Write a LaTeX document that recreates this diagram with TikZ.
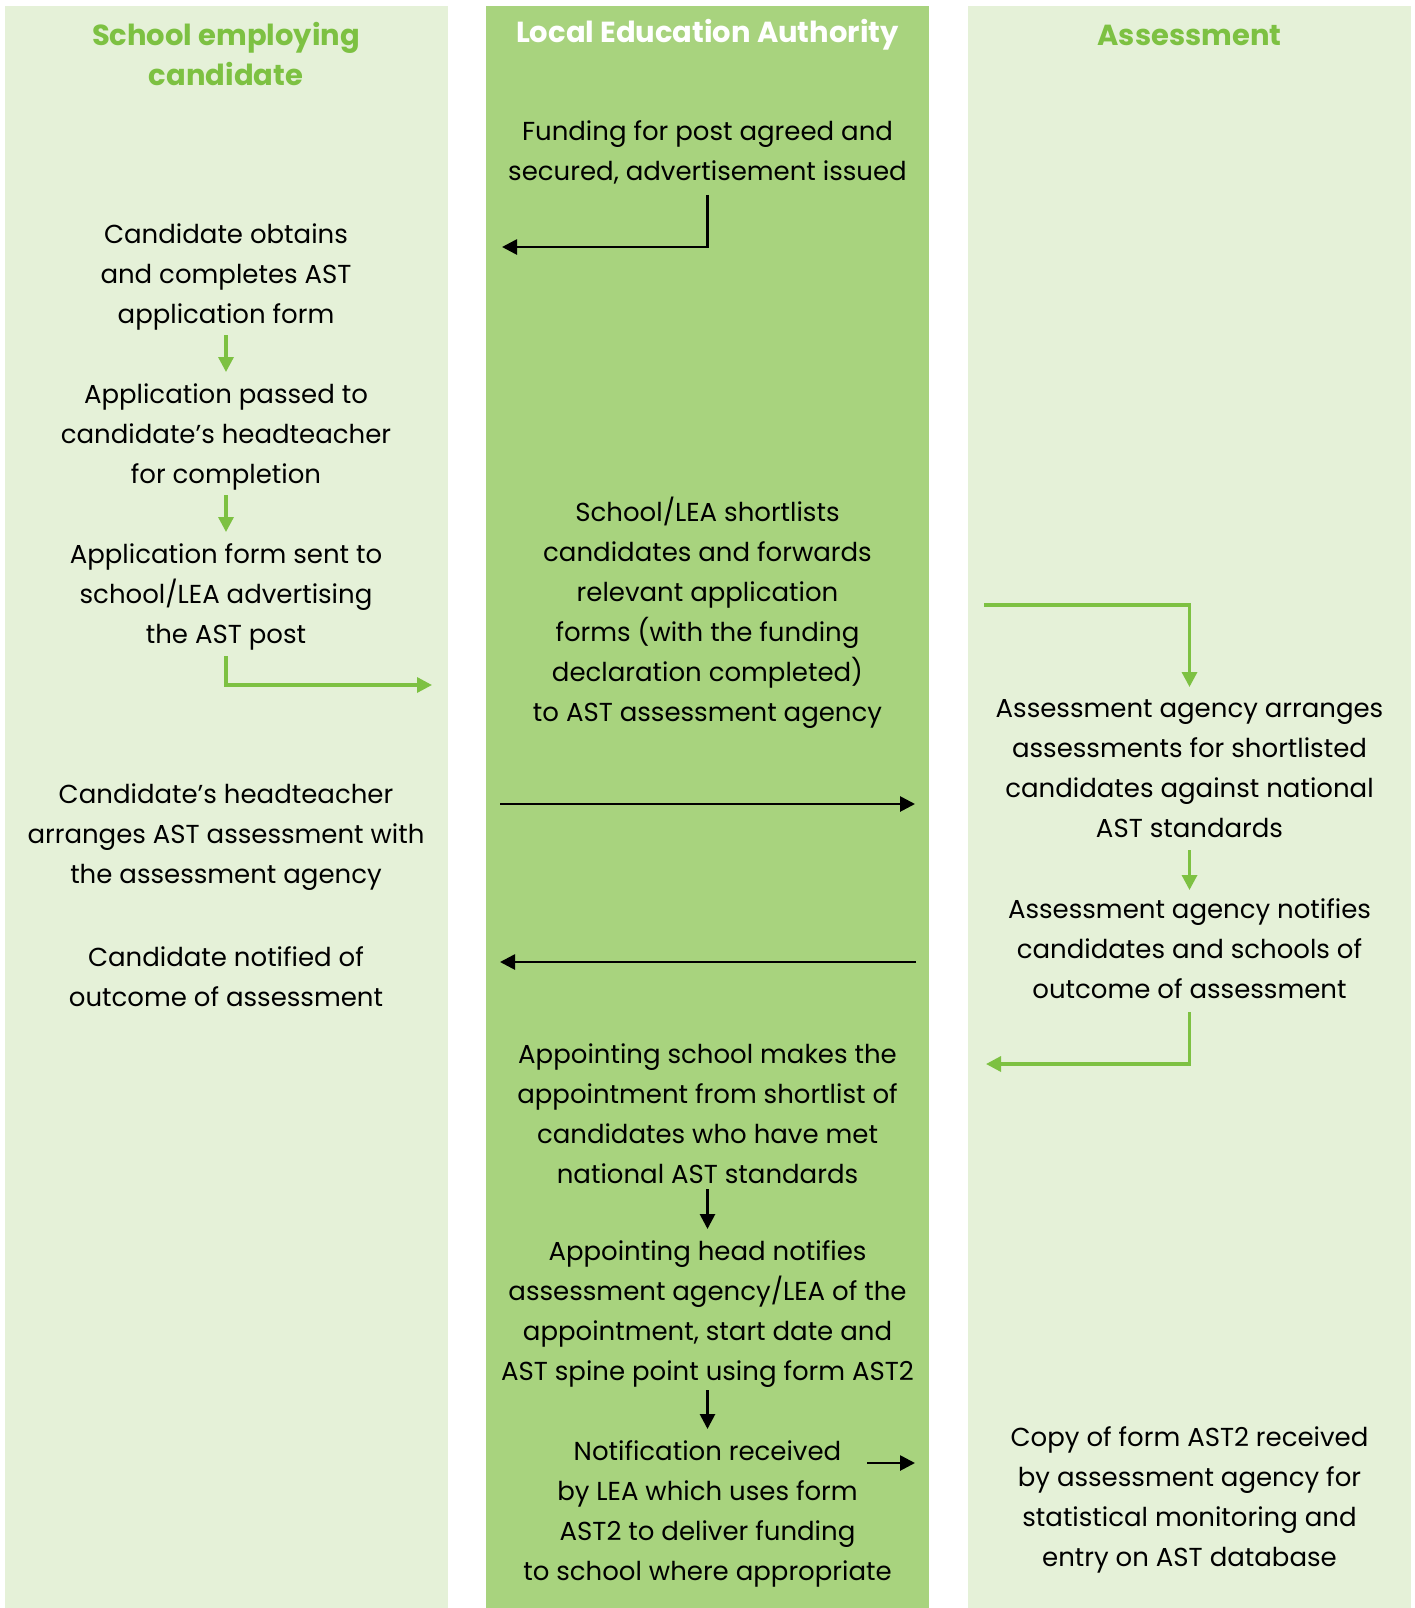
\documentclass[tikz,border=0pt]{standalone}
\usepackage{fontspec}
\setmainfont{Poppins}
\usetikzlibrary{calc,arrows.meta}
\definecolor{lanepale}{HTML}{E5F1D8}
\definecolor{lanemid}{HTML}{A8D37E}
\definecolor{greenline}{HTML}{7DC142}
\tikzset{
  txt/.style={align=center,inner sep=0pt,font=\fontsize{26}{40}\selectfont},
  head/.style={align=center,inner sep=0pt,font=\fontsize{29}{40}\selectfont\bfseries},
  garrow/.style={-{Triangle[length=15pt,width=15pt]},greenline,line width=3.3pt},
  barrow/.style={-{Triangle[length=15pt,width=15pt]},black,line width=2.7pt}
}
\begin{document}
\begin{tikzpicture}[x=1pt,y=-1pt]
  \useasboundingbox (0,0) rectangle (1415,1608);
  % the three lanes
  \fill[lanepale] (5,6) rectangle (448,1608);
  \fill[lanemid] (486,6) rectangle (929,1608);
  \fill[lanepale] (968,6) rectangle (1411,1608);
  % headings
  \node[head,greenline](hschool)at(226,54){School employing\\candidate};
  \node[head,white](hlea)at(707.5,35){Local Education Authority};
  \node[head,greenline](hassess)at(1189.5,35){Assessment};
  % school column
  \node[txt](obtain)at(226,277){Candidate obtains\\and completes AST\\application form};
  \node[txt](passed)at(226,437){Application passed to\\candidate’s headteacher\\for completion};
  \node[txt](sent)at(226,597){Application form sent to\\school/LEA advertising\\the AST post};
  \node[txt](arranges)at(226,837){Candidate’s headteacher\\arranges AST assessment with\\the assessment agency};
  \node[txt](notified)at(226,977){Candidate notified of\\outcome of assessment};
  % LEA column
  \node[txt](funding)at(707.5,152){Funding for post agreed and\\secured, advertisement issued};
  \node[txt](shortlist)at(707.5,613){School/LEA shortlists\\candidates and forwards\\relevant application\\forms (with the funding\\declaration completed)\\to AST assessment agency};
  \node[txt](appoint)at(707.5,1114){Appointing school makes the\\appointment from shortlist of\\candidates who have met\\national AST standards};
  \node[txt](head)at(707.5,1314){Appointing head notifies\\assessment agency/LEA of the\\appointment, start date and\\AST spine point using form AST2};
  \node[txt](received)at(707.5,1514){Notification received\\by LEA which uses form\\AST2 to deliver funding\\to school where appropriate};
  % assessment column
  \node[txt](agencyarr)at(1189.5,769){Assessment agency arranges\\assessments for shortlisted\\candidates against national\\AST standards};
  \node[txt](agencynot)at(1189.5,949){Assessment agency notifies\\candidates and schools of\\outcome of assessment};
  \node[txt](copy)at(1189.5,1500){Copy of form AST2 received\\by assessment agency for\\statistical monitoring and\\entry on AST database};
  % loose ends of the connectors
  \coordinate(fundleft)at(502,247);
  \coordinate(sentright)at(432,685);
  \coordinate(lealeft)at(500,804);
  \coordinate(learight)at(915,804);
  \coordinate(backright)at(916,962);
  \coordinate(backleft)at(500,962);
  \coordinate(recvout)at(867,1463);
  \coordinate(recvend)at(915,1463);
  \coordinate(assin)at(984,605);
  \coordinate(assout)at(986,1064);
  % connectors
  \draw[barrow](707.5,195)|-(fundleft);
  \draw[garrow](226,335)--(226,372);
  \draw[garrow](226,495)--(226,532);
  \draw[garrow](226,656)|-(sentright);
  \draw[barrow](lealeft)--(learight);
  \draw[barrow](backright)--(backleft);
  \draw[barrow](707.5,1189)--(707.5,1229);
  \draw[barrow](707.5,1390)--(707.5,1429);
  \draw[barrow](recvout)--(recvend);
  \draw[garrow](assin)-|(1189.5,687);
  \draw[garrow](1189.5,850)--(1189.5,890);
  \draw[garrow](1189.5,1012)|-(assout);
\end{tikzpicture}
\end{document}
